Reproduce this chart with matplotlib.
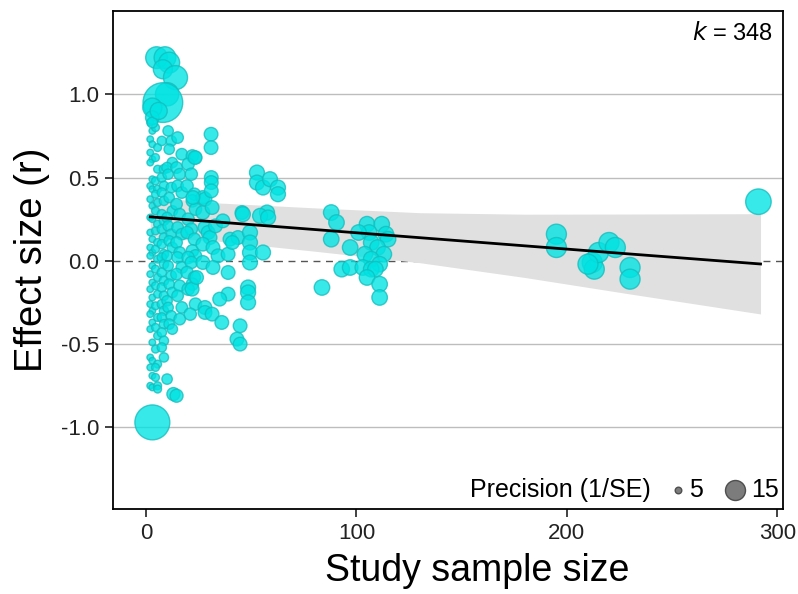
import matplotlib.pyplot as plt
import numpy as np

plt.rcParams['font.family'] = ['Liberation Sans', 'DejaVu Sans']

# study sample size, effect size (r), precision (1/SE)
n_vals = []
r_vals = []
prec_vals = []


def add(ns, rs, ps):
    if np.isscalar(ns):
        ns = [ns] * len(rs)
    if np.isscalar(ps):
        ps = [ps] * len(rs)
    n_vals.extend(ns)
    r_vals.extend(rs)
    prec_vals.extend(ps)


# n ~ 2-3
r_a = [0.83, 0.78, 0.73, 0.70, 0.65, 0.61, 0.59, 0.49, 0.45, 0.43, 0.37, 0.33, 0.26, 0.25,
       0.17, 0.13, 0.08, 0.05, 0.03, -0.03, -0.08, -0.13, -0.17, -0.22, -0.26, -0.30, -0.32,
       -0.37, -0.41, -0.49, -0.58, -0.60, -0.64, -0.69, -0.75, -0.76]
n_a = [2, 3] * 18
add(n_a, r_a, 5.0)

# n ~ 4-5
r_b = [0.80, 0.68, 0.62, 0.55, 0.48, 0.43, 0.40, 0.35, 0.30, 0.22, 0.18, 0.11, 0.07, 0.01,
       -0.05, -0.10, -0.15, -0.20, -0.27, -0.34, -0.40, -0.45, -0.53, -0.62, -0.70, -0.75,
       -0.64, -0.77]
n_b = [4.5, 5.5] * 14
add(n_b, r_b, 5.5)

# n ~ 7-9
r_c = [0.72, 0.55, 0.50, 0.45, 0.41, 0.36, 0.28, 0.24, 0.19, 0.14, 0.10, 0.04, 0.02, -0.02,
       -0.07, -0.12, -0.16, -0.21, -0.26, -0.30, -0.34, -0.38, -0.43, -0.48, -0.52, -0.58]
n_c = [7.5, 8.5] * 13
add(n_c, r_c, 6.2)

# n ~ 10-12
r_d = [0.78, 0.72, 0.67, 0.59, 0.56, 0.52, 0.44, 0.38, 0.30, 0.26, 0.21, 0.16, 0.12, 0.08,
       0.03, -0.03, -0.09, -0.14, -0.19, -0.24, -0.28, -0.33, -0.38, -0.41, -0.71]
n_d = [10.5, 12, 11, 12.5, 10] * 5
add(n_d, r_d, 6.8)
add([13, 14.5], [-0.80, -0.81], 8.5)

# n ~ 14-17
r_e = [0.74, 0.64, 0.56, 0.52, 0.45, 0.41, 0.34, 0.28, 0.20, 0.16, 0.11, 0.05, 0.02, -0.04,
       -0.08, -0.15, -0.21, -0.28, -0.35]
n_e = [15, 17, 14.5, 16] * 4 + [15, 17, 16]
add(n_e, r_e, 7.5)

# n ~ 19-24
r_f = [0.63, 0.62, 0.58, 0.52, 0.45, 0.40, 0.36, 0.31, 0.25, 0.19, 0.17, 0.13, 0.06, 0.03,
       0.02, -0.01, -0.07, -0.10, -0.14, -0.17, -0.26, -0.32]
n_f = [22, 23.5, 20, 21.5, 19.5, 23] * 3 + [22, 20, 23.5, 21]
add(n_f, r_f, 8)

# n ~ 25-45
n_g = [27, 27, 28, 30.9, 30.9, 31, 31, 31, 31.4, 28, 29.5, 30.4, 27, 31.8, 34.2, 39, 27,
       31.8, 39, 39, 35, 28, 28, 31.4, 36, 44.7, 43.2, 44.7, 39.9, 43.7, 45.6, 22.3, 23.3,
       21.9, 24, 33, 36.5, 41]
r_g = [0.38, 0.29, 0.37, 0.76, 0.68, 0.50, 0.47, 0.42, 0.32, 0.20, 0.17, 0.14, 0.10, 0.08,
       0.03, 0.04, -0.01, -0.04, -0.07, -0.20, -0.23, -0.28, -0.31, -0.32, -0.37, -0.39,
       -0.47, -0.50, 0.13, 0.14, 0.29, 0.38, 0.62, -0.17, -0.10, 0.21, 0.24, 0.11]
add(n_g, r_g, 9)

# n ~ 45-65
n_h = [52.7, 52.7, 55.6, 58.9, 62.7, 62.7, 57.5, 54.2, 58, 49.4, 49.4, 49.4, 49.4, 55.6,
       48.5, 48.5, 48.5, 46]
r_h = [0.53, 0.47, 0.44, 0.49, 0.44, 0.40, 0.29, 0.27, 0.26, 0.17, 0.11, 0.05, -0.01, 0.05,
       -0.16, -0.19, -0.25, 0.28]
add(n_h, r_h, 10)

# n ~ 83-116
n_i = [88, 90.5, 88, 97, 83.6, 93, 97, 105, 112, 106, 101, 114, 115, 107, 110, 104, 113,
       107, 103, 111, 107, 109, 105, 111, 111]
r_i = [0.29, 0.23, 0.13, 0.08, -0.16, -0.05, -0.04, 0.22, 0.22, 0.17, 0.17, 0.16, 0.13,
       0.11, 0.08, 0.04, 0.04, 0.01, -0.04, -0.02, -0.05, -0.05, -0.10, -0.14, -0.22]
add(n_i, r_i, 10.5)

# n ~ 195-232
n_j = [195, 195, 212, 213, 215, 220, 223, 230, 230, 210]
r_j = [0.16, 0.08, -0.01, -0.05, 0.05, 0.11, 0.08, -0.04, -0.11, -0.02]
add(n_j, r_j, 15)

# outlier at n ~ 291
add([291], [0.355], 22)

# large bubbles
add([5, 9, 11, 8, 14, 10, 8, 3, 3, 3, 6, 3],
    [1.22, 1.22, 1.19, 1.15, 1.10, 1.00, 0.95, 0.92, 0.86, 0.83, 0.90, -0.97],
    [17, 17, 16, 14, 20, 19, 48, 14, 9, 7, 12, 38])

n_vals = np.array(n_vals)
r_vals = np.array(r_vals)
prec_vals = np.array(prec_vals)

# meta-regression line and its confidence band
band_n = [2, 35, 80, 130, 180, 230, 292]
band_fit = [0.264, 0.232, 0.188, 0.139, 0.090, 0.041, -0.019]
band_lo = [0.144, 0.117, 0.058, -0.011, -0.100, -0.199, -0.319]
band_hi = [0.384, 0.347, 0.318, 0.289, 0.280, 0.281, 0.283]

k_studies = 348
legend_prec = [5, 15]


def prec_to_s(p):
    radius_px = np.sqrt(np.maximum(8.91 * np.asarray(p) - 33.6, 2.0))
    return (1.44 * radius_px) ** 2


fig = plt.figure(figsize=(7.98, 5.94), dpi=100)
ax = fig.add_axes([0.1416, 0.1431, 0.8394, 0.8384])

for y in [-1.0, -0.5, 0.5, 1.0]:
    ax.axhline(y, color='#bdbdbd', lw=1.0, zorder=0)
ax.axhline(0, color='#555555', lw=1.0, ls=(0, (5, 4)), zorder=0.5)

ax.fill_between(band_n, band_lo, band_hi, color='#e0e0e0', lw=0, zorder=1)
ax.plot(band_n, band_fit, color='black', lw=2.0, zorder=4)

ax.scatter(n_vals, r_vals, s=prec_to_s(prec_vals), facecolor='#00e3e3', alpha=0.78,
           edgecolor='#14bdbd', linewidth=1.0, zorder=3)

ax.set_xlim(-15.7, 302.6)
ax.set_ylim(-1.49, 1.50)
ax.set_xticks([0, 100, 200, 300])
ax.set_yticks([-1.0, -0.5, 0.0, 0.5, 1.0])
ax.set_yticklabels(['-1.0', '-0.5', '0.0', '0.5', '1.0'])
ax.tick_params(axis='both', labelsize=16, length=6, width=1.3, color='#333333',
               labelcolor='#222222', pad=4)
for sp in ax.spines.values():
    sp.set_linewidth(1.3)
    sp.set_color('black')

ax.set_xlabel('Study sample size', fontsize=27)
ax.set_ylabel('Effect size (r)', fontsize=27.5, labelpad=8)
ax.xaxis.set_label_coords(0.543, -0.088)

ax.text(0.985, 0.955, r'$k$ = %d' % k_studies, transform=ax.transAxes, ha='right',
        va='center', fontsize=17)

# legend for point size
ax.text(0.533, 0.038, 'Precision (1/SE)', transform=ax.transAxes, ha='left',
        va='center', fontsize=18)
leg_x = [0.843, 0.928]
leg_lab_x = [0.860, 0.952]
for p, xk, xl in zip(legend_prec, leg_x, leg_lab_x):
    ax.scatter([xk], [0.038], s=prec_to_s(p), transform=ax.transAxes, facecolor='#6e6e6e',
               edgecolor='#444444', alpha=0.9, clip_on=False, zorder=5)
    ax.text(xl, 0.038, str(p), transform=ax.transAxes, ha='left', va='center', fontsize=18)

fig.savefig('out.png', dpi=100)
